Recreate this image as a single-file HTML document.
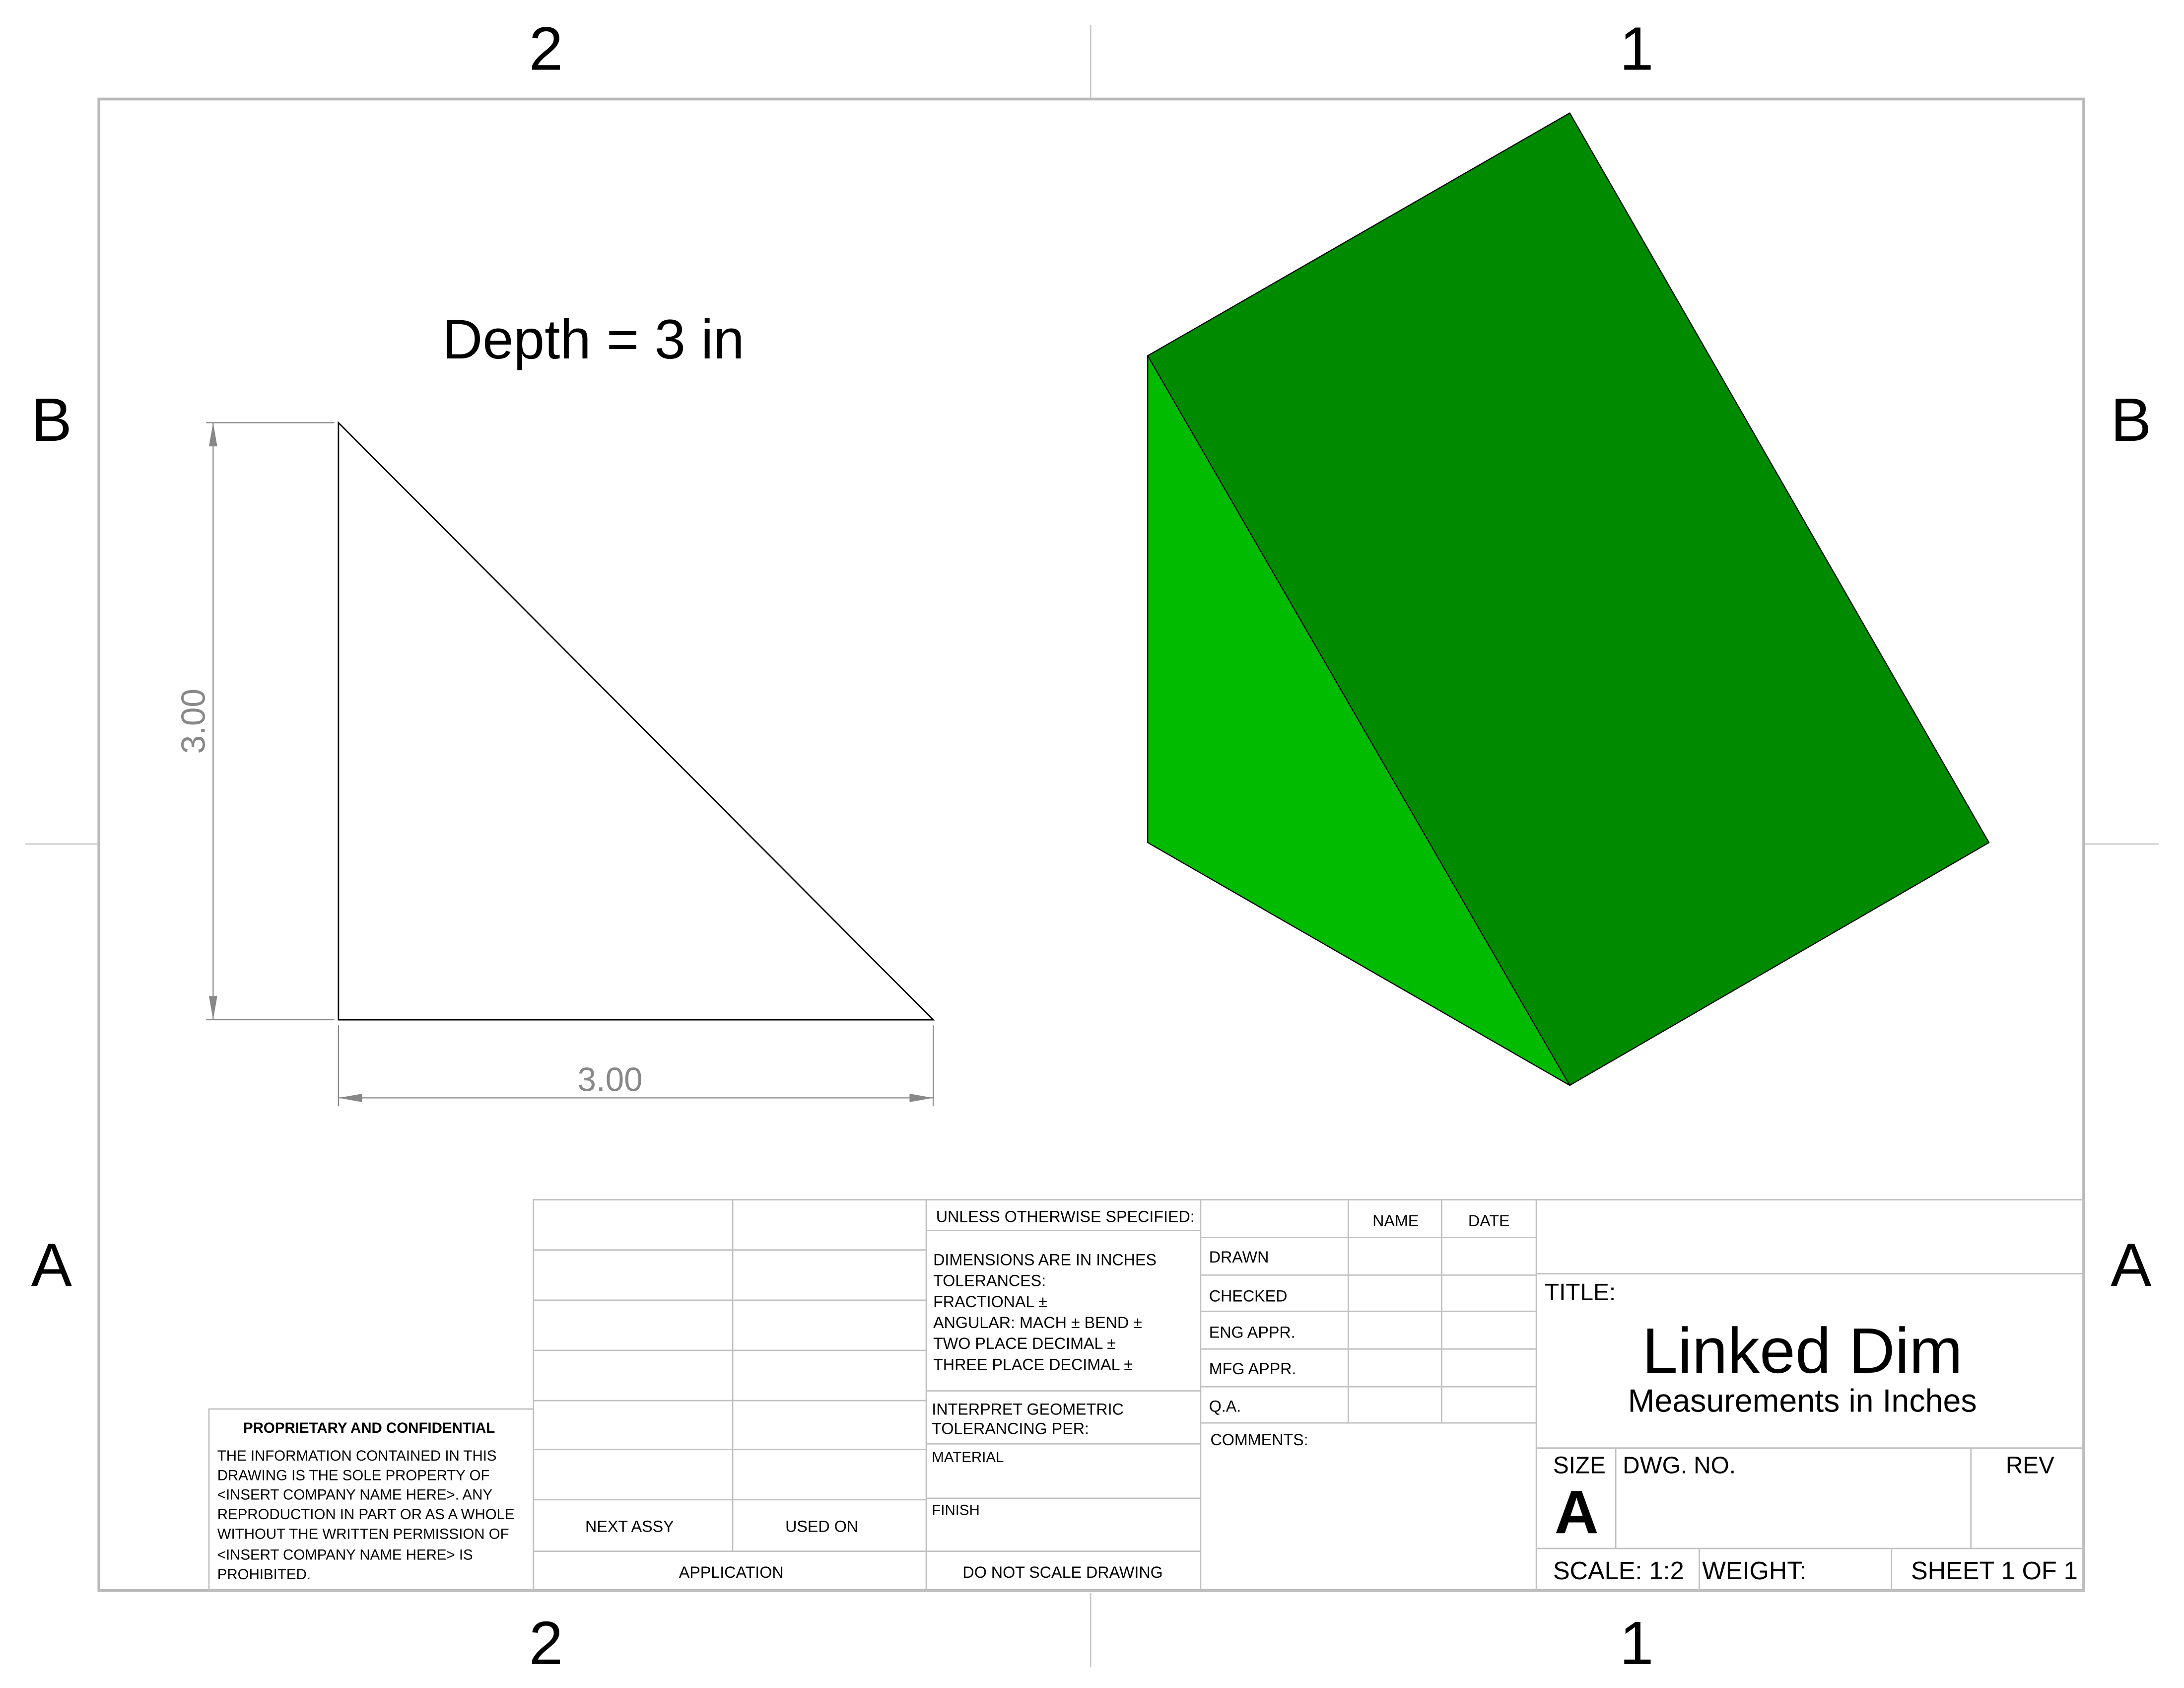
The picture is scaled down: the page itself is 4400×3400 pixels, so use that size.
<!DOCTYPE html>
<html><head><meta charset="utf-8"><style>
html,body{margin:0;padding:0;background:#fff;}
svg{display:block;}
text{font-family:"Liberation Sans",sans-serif;fill:#000;}
</style></head><body>
<svg width="4400" height="3400" viewBox="0 0 1568 1210" preserveAspectRatio="none" xmlns="http://www.w3.org/2000/svg">
<rect x="0" y="0" width="1568" height="1210" fill="#fff"/>
<g stroke="#c8c8c8" stroke-width="1">
<line x1="783" y1="18" x2="783" y2="70"/><line x1="783" y1="1142" x2="783" y2="1195"/>
<line x1="18" y1="605" x2="70" y2="605"/><line x1="1497" y1="605" x2="1550" y2="605"/>
</g>
<g font-size="44" text-anchor="middle">
<text x="392" y="50">2</text><text x="1175" y="50">1</text>
<text x="392" y="1193">2</text><text x="1175" y="1193">1</text>
<text x="37" y="316">B</text><text x="1530" y="316">B</text>
<text x="37" y="922">A</text><text x="1530" y="922">A</text>
</g>
<rect x="71" y="71" width="1425" height="1069" fill="none" stroke="#b8b8b8" stroke-width="2"/>
<text x="426" y="257" font-size="40" text-anchor="middle">Depth = 3 in</text>
<polygon points="243,303 243,731 670,731" fill="none" stroke="#000" stroke-width="1"/>
<g stroke="#888" stroke-width="0.8" fill="#888">
<line x1="240" y1="303" x2="148" y2="303"/><line x1="240" y1="731" x2="148" y2="731"/>
<line x1="153" y1="303" x2="153" y2="731"/>
<polygon points="153,303 150,320 156,320" stroke="none"/><polygon points="153,731 150,714 156,714" stroke="none"/>
</g>
<text x="0" y="0" font-size="24" fill="#888" text-anchor="middle" transform="translate(147,517) rotate(-90)" style="fill:#888">3.00</text>
<g stroke="#888" stroke-width="0.8" fill="#888">
<line x1="243" y1="735" x2="243" y2="793"/><line x1="670" y1="735" x2="670" y2="793"/>
<line x1="243" y1="787" x2="670" y2="787"/>
<polygon points="243,787 260,784 260,790" stroke="none"/><polygon points="670,787 653,784 653,790" stroke="none"/>
</g>
<text x="438" y="782" font-size="24" text-anchor="middle" style="fill:#888">3.00</text>
<g stroke="#000" stroke-width="0.8" stroke-linejoin="round">
<polygon points="824,255 824,604 1127,778" fill="#00BB00"/>
<polygon points="824,255 1127,81 1428,604 1127,778" fill="#008A00"/>
</g>
<g stroke="#c0c0c0" stroke-width="1" fill="none">
<rect x="383" y="860" width="1113" height="280"/>
<line x1="526" y1="860" x2="526" y2="1112"/>
<line x1="665" y1="860" x2="665" y2="1140"/>
<line x1="862" y1="860" x2="862" y2="1140"/>
<line x1="1103" y1="860" x2="1103" y2="1140"/>
<line x1="383" y1="896" x2="665" y2="896"/><line x1="383" y1="932" x2="665" y2="932"/>
<line x1="383" y1="968" x2="665" y2="968"/><line x1="383" y1="1004" x2="665" y2="1004"/>
<line x1="383" y1="1039" x2="665" y2="1039"/><line x1="383" y1="1075" x2="665" y2="1075"/>
<line x1="383" y1="1112" x2="862" y2="1112"/>
<line x1="665" y1="882" x2="862" y2="882"/><line x1="665" y1="997" x2="862" y2="997"/>
<line x1="665" y1="1035" x2="862" y2="1035"/><line x1="665" y1="1074" x2="862" y2="1074"/>
<line x1="968" y1="860" x2="968" y2="1020"/><line x1="1035" y1="860" x2="1035" y2="1020"/>
<line x1="862" y1="887" x2="1103" y2="887"/><line x1="862" y1="914" x2="1103" y2="914"/>
<line x1="862" y1="940" x2="1103" y2="940"/><line x1="862" y1="967" x2="1103" y2="967"/>
<line x1="862" y1="994" x2="1103" y2="994"/><line x1="862" y1="1020" x2="1103" y2="1020"/>
<line x1="1103" y1="913" x2="1496" y2="913"/><line x1="1103" y1="1038" x2="1496" y2="1038"/>
<line x1="1103" y1="1110" x2="1496" y2="1110"/>
<line x1="1160" y1="1038" x2="1160" y2="1110"/><line x1="1415" y1="1038" x2="1415" y2="1110"/>
<line x1="1220" y1="1110" x2="1220" y2="1140"/><line x1="1358" y1="1110" x2="1358" y2="1140"/>
<rect x="150" y="1010" width="233" height="130"/>
</g>
<g font-size="11.5">
<text x="672" y="876">UNLESS OTHERWISE SPECIFIED:</text>
<text x="670" y="907">DIMENSIONS ARE IN INCHES</text>
<text x="670" y="922">TOLERANCES:</text>
<text x="670" y="937">FRACTIONAL ±</text>
<text x="670" y="952">ANGULAR: MACH ±     BEND ±</text>
<text x="670" y="967">TWO PLACE DECIMAL    ±</text>
<text x="670" y="982">THREE PLACE DECIMAL  ±</text>
<text x="669" y="1014">INTERPRET GEOMETRIC</text>
<text x="669" y="1028">TOLERANCING PER:</text>
<text x="669" y="1048" font-size="10.5">MATERIAL</text>
<text x="669" y="1086" font-size="10.5">FINISH</text>
<text x="763" y="1131" text-anchor="middle">DO NOT SCALE DRAWING</text>
<text x="525" y="1131" text-anchor="middle">APPLICATION</text>
<text x="452" y="1098" text-anchor="middle">NEXT ASSY</text>
<text x="590" y="1098" text-anchor="middle">USED ON</text>
<text x="1002" y="879" text-anchor="middle">NAME</text>
<text x="1069" y="879" text-anchor="middle">DATE</text>
<text x="868" y="905">DRAWN</text>
<text x="868" y="933">CHECKED</text>
<text x="868" y="959">ENG APPR.</text>
<text x="868" y="985">MFG APPR.</text>
<text x="868" y="1012">Q.A.</text>
<text x="869" y="1036">COMMENTS:</text>
<text x="1109" y="932" font-size="17">TITLE:</text>
<text x="1294" y="984" font-size="46" text-anchor="middle">Linked Dim</text>
<text x="1294" y="1012" font-size="23" text-anchor="middle">Measurements in Inches</text>
<text x="1115" y="1056" font-size="17">SIZE</text>
<text x="1165" y="1056" font-size="17">DWG.  NO.</text>
<text x="1440" y="1056" font-size="17">REV</text>
<text x="1116" y="1099" font-size="44" font-weight="bold">A</text>
<text x="1115" y="1132" font-size="18">SCALE: 1:2</text>
<text x="1222" y="1132" font-size="18">WEIGHT:</text>
<text x="1372" y="1132" font-size="18">SHEET 1 OF 1</text>
<text x="265" y="1027" font-size="10.5" font-weight="bold" text-anchor="middle">PROPRIETARY AND CONFIDENTIAL</text>
<g font-size="10.5">
<text x="156" y="1047">THE INFORMATION CONTAINED IN THIS</text>
<text x="156" y="1061">DRAWING IS THE SOLE PROPERTY OF</text>
<text x="156" y="1075">&lt;INSERT COMPANY NAME HERE&gt;.  ANY</text>
<text x="156" y="1089">REPRODUCTION IN PART OR AS A WHOLE</text>
<text x="156" y="1103">WITHOUT THE WRITTEN PERMISSION OF</text>
<text x="156" y="1118">&lt;INSERT COMPANY NAME HERE&gt; IS</text>
<text x="156" y="1132">PROHIBITED.</text>
</g>
</g>
</svg>
</body></html>
